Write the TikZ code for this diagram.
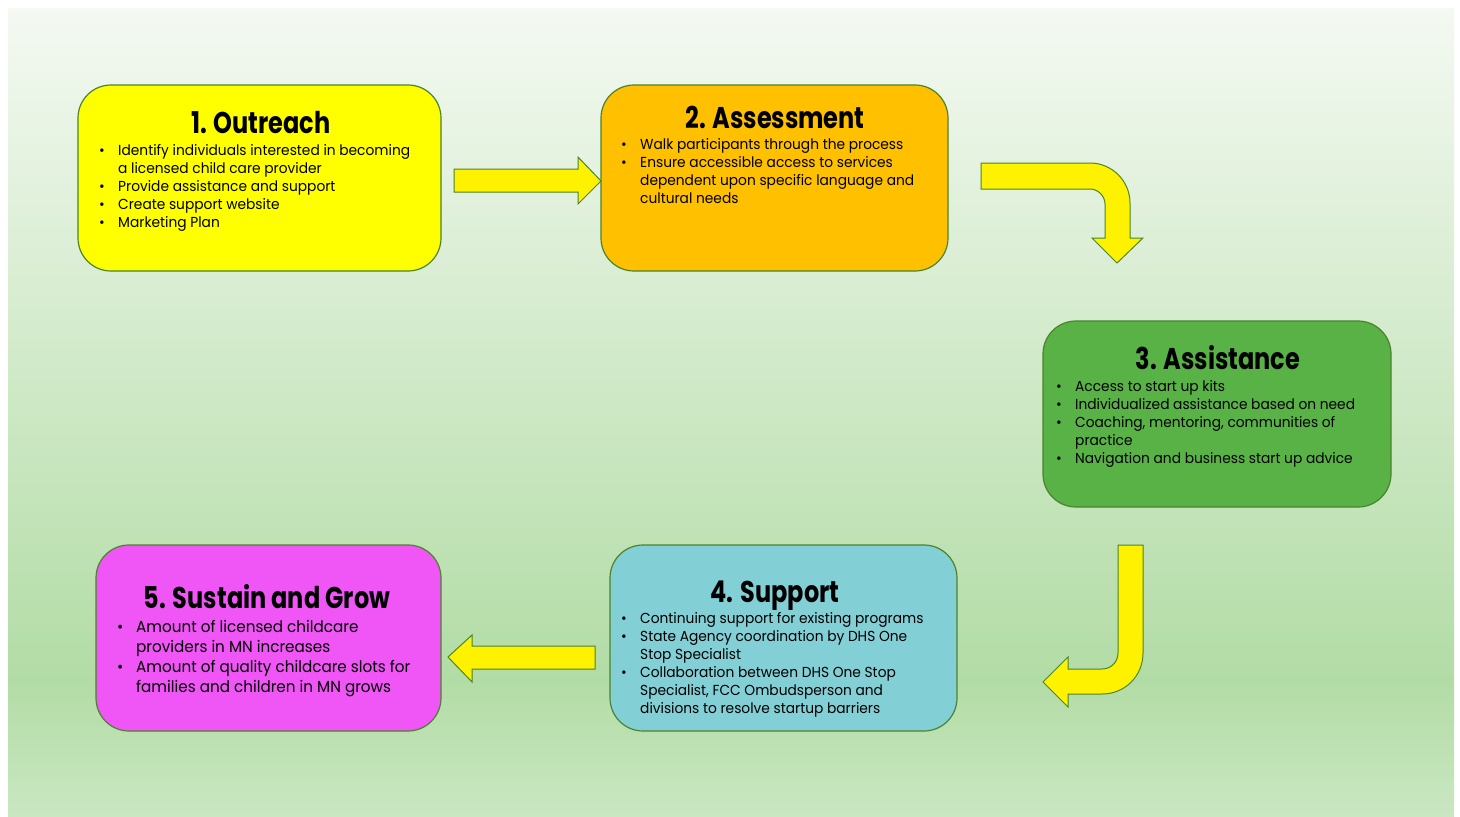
\documentclass[tikz,border=0pt]{standalone}
\usepackage{fontspec}
\setmainfont{Poppins}[FakeStretch=0.95]
\newfontfamily\titlefont{Poppins}[FakeStretch=0.8]

\definecolor{edgegreen}{RGB}{74,132,44}
\definecolor{bgtop}{RGB}{244,249,242}
\definecolor{bgdark}{RGB}{178,220,165}
\definecolor{bgbot}{RGB}{202,231,194}
\definecolor{outreachfill}{RGB}{255,255,0}
\definecolor{assessfill}{RGB}{255,192,0}
\definecolor{assistfill}{RGB}{88,178,70}
\definecolor{supportfill}{RGB}{130,207,214}
\definecolor{growfill}{RGB}{240,85,245}

% the shaded path is mapped onto 25bp..75bp of the shading
\pgfdeclareverticalshading{bgshade}{100bp}{color(0bp)=(bgbot); color(25bp)=(bgbot); color(33.5bp)=(bgdark); color(75bp)=(bgtop); color(100bp)=(bgtop)}

\tikzset{
  stage/.style={draw=edgegreen, line width=1.2pt, rounded corners=33pt, inner sep=0pt},
  stagetitle/.style={anchor=base, inner sep=0pt, font=\fontsize{30}{36}\selectfont\titlefont\bfseries},
  items/.style={anchor=base west, align=left, inner sep=0pt, font=\fontsize{14.5}{18}\selectfont},
  blockarrow/.style={fill=yellow, draw=edgegreen, line width=1pt, line join=miter}
}
\newcommand\bul{\makebox[19pt][l]{\textbullet}}
\newcommand\contline{\hspace*{19pt}}

\begin{document}
\begin{tikzpicture}[x=1pt, y=-1pt]
    \useasboundingbox (0,0) rectangle (1460,817);
    \fill[white] (0,0) rectangle (1460,817);
    \shade[shading=bgshade] (8,8) rectangle (1454,817);

    % stages
    \node[stage, fill=outreachfill, minimum width=363pt, minimum height=186pt] (outreach) at (259.5,178) {};
    \node[stage, fill=assessfill, minimum width=347pt, minimum height=186pt] (assess) at (774.5,178) {};
    \node[stage, fill=assistfill, minimum width=348pt, minimum height=186pt] (assist) at (1217,414) {};
    \node[stage, fill=supportfill, minimum width=347pt, minimum height=186pt] (support) at (783.5,638) {};
    \node[stage, fill=growfill, minimum width=345pt, minimum height=186pt] (grow) at (268.5,638) {};

    % titles
    \node[stagetitle] (outreachtitle) at (261,133) {1. Outreach};
    \node[stagetitle] (assesstitle) at (775,128) {2. Assessment};
    \node[stagetitle] (assisttitle) at (1218,369) {3. Assistance};
    \node[stagetitle] (supporttitle) at (775,602) {4. Support};
    \node[stagetitle] (growtitle) at (267,608) {5. Sustain and Grow};

    % bullet lists (placed at the baseline of their last line)
    \node[items] (outreachlist) at (99,227) {\bul Identify individuals interested in becoming\\
        \contline a licensed child care provider\\
        \bul Provide assistance and support\\
        \bul Create support website\\
        \bul Marketing Plan};
    \node[items] (assesslist) at (621,203) {\bul Walk participants through the process\\
        \bul Ensure accessible access to services\\
        \contline dependent upon specific language and\\
        \contline cultural needs};
    \node[items] (assistlist) at (1056,463) {\bul Access to start up kits\\
        \bul Individualized assistance based on need\\
        \bul Coaching, mentoring, communities of\\
        \contline practice\\
        \bul Navigation and business start up advice};
    \node[items] (supportlist) at (621,713) {\bul Continuing support for existing programs\\
        \bul State Agency coordination by DHS One\\
        \contline Stop Specialist\\
        \bul Collaboration between DHS One Stop\\
        \contline Specialist, FCC Ombudsperson and\\
        \contline divisions to resolve startup barriers};
    \node[items, font=\fontsize{16}{20}\selectfont] (growlist) at (117,692) {\bul Amount of licensed childcare\\
        \contline providers in MN increases\\
        \bul Amount of quality childcare slots for\\
        \contline families and children in MN grows};

    % arrows between stages
    \draw[blockarrow] (454,169) -- (578,169) -- (578,157) -- (601,181) -- (578,204) -- (578,192) -- (454,192) -- cycle;
    \draw[blockarrow] (981,163) -- (1090,163) .. controls (1112,163) and (1130,181) .. (1130,203)
        -- (1130,238) -- (1143,238) -- (1117,263) -- (1092,238) -- (1105,238) -- (1105,204)
        .. controls (1105,196) and (1098,189) .. (1090,189) -- (981,189) -- cycle;
    \draw[blockarrow] (1118,545) -- (1143,545) -- (1143,653) .. controls (1143,676) and (1125,694) .. (1102,694)
        -- (1068,694) -- (1068,707) -- (1043,682) -- (1068,657) -- (1068,669) -- (1102,669)
        .. controls (1111,669) and (1118,662) .. (1118,653) -- cycle;
    \draw[blockarrow] (595,646) -- (472,646) -- (472,635) -- (448,657) -- (472,682) -- (472,669) -- (595,669) -- cycle;
\end{tikzpicture}
\end{document}
